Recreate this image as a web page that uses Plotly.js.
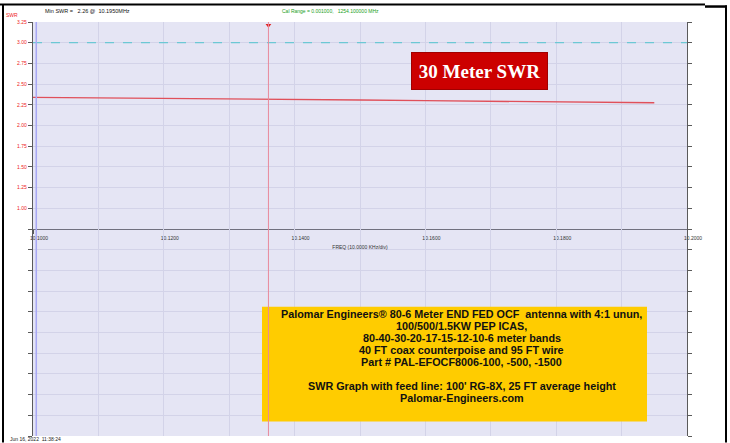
<!DOCTYPE html>
<html>
<head>
<meta charset="utf-8">
<script src="https://cdn.plot.ly/plotly-3.0.1.min.js"></script>
<style>
  html, body { margin: 0; padding: 0; background: #ffffff; }
  #chart { width: 730px; height: 443px; }
</style>
</head>
<body>
<div id="chart"></div>
<script>
// ---- data ----
const freqMHz = [10.100, 10.110, 10.120, 10.130, 10.140, 10.150, 10.160, 10.170, 10.180, 10.190, 10.195];
const swr     = [2.340, 2.335, 2.330, 2.322, 2.315, 2.308, 2.300, 2.294, 2.288, 2.280, 2.275];
const swrLimitFreq = [10.100, 10.200];
const swrLimit     = [3.00, 3.00];
const markerFreq = [10.136];
const markerSwr  = [3.21];
const startMarkerFreq = 10.1005;
const yTickVals = [1.00, 1.25, 1.50, 1.75, 2.00, 2.25, 2.50, 2.75, 3.00, 3.25];
const xTickVals = [10.10, 10.12, 10.14, 10.16, 10.18, 10.20];

const minSwrText = "Min SWR =   2.26 @  10.1950MHz";
const calRangeText = "Cal Range = 0.001000,   1254.100000 MHz";
const dateText = "Jun 16, 2022  11:38:24";
const bandTitle = "30 Meter SWR";
const infoLines = [
  "Palomar Engineers® 80-6 Meter END FED OCF  antenna with 4:1 unun,",
  "100/500/1.5KW PEP ICAS,",
  "80-40-30-20-17-15-12-10-6 meter bands",
  "40 FT coax counterpoise and 95 FT wire",
  "Part # PAL-EFOCF8006-100, -500, -1500",
  "",
  "SWR Graph with feed line: 100' RG-8X, 25 FT average height",
  "Palomar-Engineers.com"
];

// ---- geometry helpers (pixel -> paper) ----
const W = 730, H = 443;
const M = { l: 33, r: 43, t: 21.5, b: 6.5 };
const PW = W - M.l - M.r, PH = H - M.t - M.b;
const px = x => (x - M.l) / PW;
const py = y => (H - M.b - y) / PH;

const gridCol = '#d3d3e8';
const axisCol = '#5a5a5a';

const traces = [
  {
    x: swrLimitFreq, y: swrLimit, type: 'scatter', mode: 'lines',
    line: { color: '#6cc8d4', width: 1.2, dash: 'dash' },
    xaxis: 'x', yaxis: 'y', hoverinfo: 'skip'
  },
  {
    x: freqMHz, y: swr, type: 'scatter', mode: 'lines',
    line: { color: '#e0505a', width: 1.4 },
    xaxis: 'x', yaxis: 'y'
  },
  {
    x: markerFreq, y: markerSwr, type: 'scatter', mode: 'markers',
    marker: { color: '#e02020', size: 5, symbol: 'triangle-down' },
    xaxis: 'x', yaxis: 'y'
  },
  // empty lower panel (no data in the reference)
  { x: [], y: [], type: 'scatter', mode: 'lines', xaxis: 'x2', yaxis: 'y2' }
];

function line(x0, y0, x1, y1, w) {
  return { type: 'line', xref: 'paper', yref: 'paper',
           x0: px(x0), y0: py(y0), x1: px(x1), y1: py(y1),
           line: { color: '#000000', width: w } };
}

const infoAnnotations = infoLines.map((s, i) => ({
  xref: 'paper', yref: 'paper', x: px(462), y: py(314 + 12 * i),
  text: s === '' ? ' ' : '<b>' + s + '</b>', showarrow: false,
  font: { family: 'Liberation Sans, Arial, sans-serif', size: 10.8, color: '#111' },
  xanchor: 'center', yanchor: 'middle'
}));

const layout = {
  width: W, height: H,
  margin: M,
  paper_bgcolor: '#ffffff',
  plot_bgcolor: '#e5e5f4',
  showlegend: false,
  font: { family: 'Liberation Sans, Arial, sans-serif', color: '#000' },
  xaxis: {
    domain: [0, 1], anchor: 'y', range: [10.10, 10.20],
    tickvals: xTickVals, tickformat: '.4f', ticklabelshift: 6,
    tickfont: { size: 5, color: '#333' },
    ticks: 'outside', ticklen: 4, tickcolor: axisCol, tickwidth: 1,
    showline: true, linecolor: '#70707e', linewidth: 1,
    showgrid: true, gridcolor: gridCol, zeroline: false,
    minor: { dtick: 0.01, tick0: 10.10, showgrid: true, gridcolor: gridCol, ticks: 'outside', ticklen: 2, tickcolor: axisCol },
    title: { text: 'FREQ (10.0000 KHz/div)', font: { size: 5, color: '#333' }, standoff: 5 },
    automargin: false
  },
  yaxis: {
    domain: [0.5, 1], anchor: 'x', range: [0.75, 3.25],
    tickvals: yTickVals, tickformat: '.2f',
    tickfont: { size: 5, color: '#ee2222' },
    ticks: 'outside', ticklen: 4, tickcolor: axisCol,
    showline: true, linecolor: axisCol, linewidth: 1.2, mirror: 'ticks',
    showgrid: true, gridcolor: gridCol, zeroline: false, automargin: false
  },
  xaxis2: {
    domain: [0, 1], anchor: 'y2', matches: 'x', range: [10.10, 10.20],
    tickvals: xTickVals, showticklabels: false, ticks: '',
    showline: false, showgrid: true, gridcolor: gridCol, zeroline: false,
    minor: { dtick: 0.01, tick0: 10.10, showgrid: true, gridcolor: gridCol },
    automargin: false
  },
  yaxis2: {
    domain: [0, 0.5], anchor: 'x2', range: [0, 10], dtick: 1,
    showticklabels: false, ticks: 'outside', ticklen: 4, tickcolor: axisCol,
    showline: true, linecolor: axisCol, linewidth: 1.2, mirror: 'ticks',
    showgrid: true, gridcolor: gridCol, zeroline: false, automargin: false
  },
  shapes: [
    { type: 'rect', xref: 'paper', yref: 'paper', x0: px(262), x1: px(647), y0: py(422), y1: py(307),
      fillcolor: '#ffcc00', line: { width: 0 } },
    { type: 'line', xref: 'x', yref: 'paper', x0: startMarkerFreq, x1: startMarkerFreq, y0: 0, y1: 1,
      line: { color: '#a8a8f4', width: 1.5 } },
    { type: 'line', xref: 'x', yref: 'paper', x0: markerFreq[0], x1: markerFreq[0], y0: 0, y1: 1,
      line: { color: '#e88a9c', width: 1 } },
    line(3, 4, 3, 443, 2),
    line(0, 4, 705, 4, 2),
    line(705, 6, 727, 6, 2.5),
    line(726, 5, 726, 443, 2)
  ],
  annotations: [
    { xref: 'paper', yref: 'paper', x: px(12), y: py(14), text: 'SWR', showarrow: false,
      font: { size: 5, color: '#ee2222' }, xanchor: 'center', yanchor: 'middle' },
    { xref: 'paper', yref: 'paper', x: px(43), y: py(10), text: minSwrText, showarrow: false,
      font: { size: 5.5, color: '#111' }, xanchor: 'left', yanchor: 'middle' },
    { xref: 'paper', yref: 'paper', x: px(280), y: py(10), text: calRangeText, showarrow: false,
      font: { size: 5, color: '#22a022' }, xanchor: 'left', yanchor: 'middle' },
    { xref: 'paper', yref: 'paper', x: px(8), y: py(440), text: dateText, showarrow: false,
      font: { size: 5, color: '#222' }, xanchor: 'left', yanchor: 'middle' },
    { xref: 'paper', yref: 'paper', x: px(479.5), y: py(71), text: '<b>' + bandTitle + '</b>', showarrow: false,
      font: { family: 'Liberation Serif, Times New Roman, serif', size: 19, color: '#ffffff' },
      bgcolor: '#cc0000', bordercolor: '#a00000', borderwidth: 1, borderpad: 0,
      width: 135, height: 36, xanchor: 'center', yanchor: 'middle' }
  ].concat(infoAnnotations)
};

Plotly.newPlot('chart', traces, layout, { displayModeBar: false, staticPlot: true });
</script>
</body>
</html>
